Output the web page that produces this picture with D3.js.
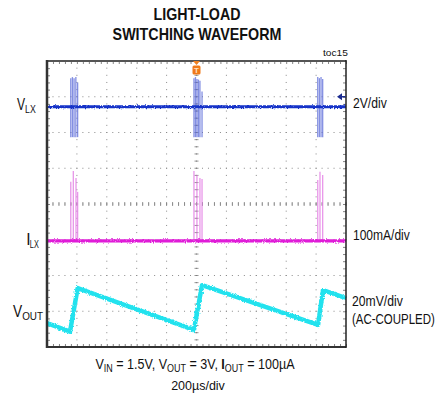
<!DOCTYPE html>
<html>
<head>
<meta charset="utf-8">
<script src="https://cdn.jsdelivr.net/npm/d3@7"></script>
<style>
body { margin: 0; background: #fff; }
text { font-family: 'Liberation Sans', Arial, sans-serif; fill: #111; }
</style>
</head>
<body>
<script>
// time axis: 10 div x 200us, vertical: 8 div (values below are in screen divisions)
const timeRange = [0, 2000]
const divRange = [-4, 4]

// VLX trace (blue)
const vlxLevel = 2.72
const vlxGround = 3.0
const vlxBurstTimes = [
	[159, 170, 181, 193, 205],
	[983, 993, 1003, 1013, 1023, 1037],
	[1811, 1822, 1833, 1844]
]
const vlxBurstHigh = [3.52, 3.55, 3.52, 3.55, 3.40, 3.52, 3.55, 3.50, 3.48, 3.45, 3.15, 3.55, 3.52, 3.55, 3.50]
const vlxBurstLow = 1.87

// ILX trace (magenta)
const ilxLevel = -1.03
const ilxBurstTimes = [
	[159, 176, 194, 205],
	[983, 1003, 1023, 1037],
	[1811, 1826, 1844]
]
const ilxBurstPeaks = [0.62, 0.92, 0.73, 0.34, 0.92, 0.81, 0.73, 0.70, 0.67, 0.90, 0.81]

// VOUT trace (cyan, AC-coupled sawtooth)
const voutTimes = [0, 154, 205, 983, 1037, 1813, 1846, 2000]
const voutDivs = [-3.33, -3.57, -2.35, -3.52, -2.27, -3.38, -2.41, -2.63]

const title = ['LIGHT-LOAD', 'SWITCHING WAVEFORM']

const W = 440, H = 405
const frame = {left: 47, top: 61, right: 346, bottom: 347}

const svg = d3.select('body').append('svg')
	.attr('width', W)
	.attr('height', H)

const defs = svg.append('defs')
const noise = defs.append('filter').attr('id', 'noise')
	.attr('filterUnits', 'userSpaceOnUse')
	.attr('x', 0).attr('y', 0).attr('width', W).attr('height', H)
noise.append('feTurbulence')
	.attr('type', 'fractalNoise').attr('baseFrequency', '0.9 0.6').attr('numOctaves', 2).attr('seed', 3)
	.attr('result', 'turb')
noise.append('feDisplacementMap')
	.attr('in', 'SourceGraphic').attr('in2', 'turb').attr('scale', 3)
	.attr('xChannelSelector', 'R').attr('yChannelSelector', 'G')

const x = d3.scaleLinear().domain(timeRange).range([frame.left, frame.right])
const y = d3.scaleLinear().domain(divRange).range([frame.bottom, frame.top])

const divTimes = d3.range(timeRange[0], timeRange[1] + 1, 200)
const subTimes = d3.range(timeRange[0], timeRange[1] + 1, 40)
const divYs = d3.range(divRange[0], divRange[1] + 0.01, 1)
const subYs = d3.range(divRange[0], divRange[1] + 0.01, 0.2)

// squeeze a text horizontally to the narrow width of the original lettering
const fit = (t, width, ax) => {
	const w = t.node().getBBox().width
	const k = width / w
	t.attr('transform', `translate(${ax},0) scale(${k},1) translate(${-ax},0)`)
	return t
}

// dotted grid
const grid = svg.append('g').attr('class', 'grid').attr('fill', '#8a8a8a')
divTimes.slice(1, -1).forEach(t => {
	grid.selectAll(null).data(subYs).enter().append('rect')
		.attr('x', x(t) - 0.5).attr('y', d => y(d) - 0.5)
		.attr('width', 1).attr('height', 1)
})
divYs.slice(1, -1).forEach(v => {
	grid.selectAll(null).data(subTimes).enter().append('rect')
		.attr('x', d => x(d) - 0.5).attr('y', y(v) - 0.5)
		.attr('width', 1).attr('height', 1)
})

// center cross ticks
const center = svg.append('g').attr('stroke', '#7a7a7a').attr('stroke-width', 0.8)
center.selectAll(null).data(subTimes).enter().append('line')
	.attr('x1', d => x(d)).attr('x2', d => x(d))
	.attr('y1', y(0) - 2).attr('y2', y(0) + 2)
center.selectAll(null).data(subYs).enter().append('line')
	.attr('y1', d => y(d)).attr('y2', d => y(d))
	.attr('x1', x(1000) - 2).attr('x2', x(1000) + 2)

// border ticks via axes
const tickAxis = (axis, scale, vals, size) => axis(scale).tickValues(vals).tickSize(size).tickFormat('')
svg.append('g').attr('transform', `translate(0,${frame.top})`)
	.call(tickAxis(d3.axisBottom, x, subTimes, 3))
svg.append('g').attr('transform', `translate(0,${frame.bottom})`)
	.call(tickAxis(d3.axisTop, x, subTimes, 3))
svg.append('g').attr('transform', `translate(${frame.left},0)`)
	.call(tickAxis(d3.axisRight, y, subYs, 3))
svg.append('g').attr('transform', `translate(${frame.right},0)`)
	.call(tickAxis(d3.axisLeft, y, subYs, 3))
svg.selectAll('.domain').remove()
svg.selectAll('.tick line').attr('stroke', '#666').attr('stroke-width', 0.8)

// traces
const traces = svg.append('g')

// VLX bursts
const vlxLines = []
vlxBurstTimes.forEach(b => b.forEach(t => vlxLines.push(t)))
traces.append('g').selectAll('line').data(vlxLines).enter().append('line')
	.attr('x1', d => x(d)).attr('x2', d => x(d))
	.attr('y1', (d, i) => y(vlxBurstHigh[i])).attr('y2', y(vlxBurstLow))
	.attr('stroke', '#5a6ad8').attr('stroke-opacity', 0.75).attr('stroke-width', 1.3)

traces.append('path')
	.datum(timeRange)
	.attr('d', d3.line().x(d => x(d)).y(() => y(vlxLevel)))
	.attr('stroke', '#1530c8').attr('stroke-width', 3.2).attr('fill', 'none')
	.attr('filter', 'url(#noise)')

// ILX bursts
const ilxLines = []
ilxBurstTimes.forEach(b => b.forEach(t => ilxLines.push(t)))
traces.append('g').selectAll('line').data(ilxLines).enter().append('line')
	.attr('x1', d => x(d)).attr('x2', d => x(d))
	.attr('y1', (d, i) => y(ilxBurstPeaks[i])).attr('y2', y(ilxLevel))
	.attr('stroke', '#e27ce4').attr('stroke-opacity', 0.8).attr('stroke-width', 1.3)

traces.append('path')
	.datum(timeRange)
	.attr('d', d3.line().x(d => x(d)).y(() => y(ilxLevel)))
	.attr('stroke', '#e01ad8').attr('stroke-width', 3.2).attr('fill', 'none')
	.attr('filter', 'url(#noise)')

// VOUT
traces.append('path')
	.datum(voutTimes.map((t, i) => [t, voutDivs[i]]))
	.attr('d', d3.line().x(d => x(d[0])).y(d => y(d[1])))
	.attr('stroke', '#22e2ee').attr('stroke-width', 4.5).attr('fill', 'none')
	.attr('stroke-linejoin', 'round')
	.attr('filter', 'url(#noise)')

// frame
svg.append('line').attr('x1', frame.left).attr('x2', frame.right).attr('y1', frame.top).attr('y2', frame.top)
	.attr('stroke', '#555').attr('stroke-width', 2)
svg.append('line').attr('x1', frame.left).attr('x2', frame.right).attr('y1', frame.bottom).attr('y2', frame.bottom)
	.attr('stroke', '#333').attr('stroke-width', 2)
svg.append('line').attr('x1', frame.left).attr('x2', frame.left).attr('y1', frame.top - 1).attr('y2', frame.bottom + 1)
	.attr('stroke', '#333').attr('stroke-width', 2.5)
svg.append('line').attr('x1', frame.right).attr('x2', frame.right).attr('y1', frame.top - 1).attr('y2', frame.bottom + 1)
	.attr('stroke', '#222').attr('stroke-width', 1.5)

// trigger marker
const tx = x(1000)
svg.append('path')
	.attr('d', `M${tx - 3.5},${frame.top} L${tx + 3.5},${frame.top} L${tx},${frame.top + 4} Z`)
	.attr('fill', '#f08020')
svg.append('rect')
	.attr('x', tx - 4).attr('y', frame.top + 4.5).attr('width', 8).attr('height', 9).attr('rx', 1.5)
	.attr('fill', '#f07a1a')
svg.append('text')
	.attr('x', tx).attr('y', frame.top + 12)
	.attr('text-anchor', 'middle').attr('font-size', 8).attr('font-weight', 'bold')
	.style('fill', '#ffe0c0')
	.text('T')

// channel ground arrow
const gy = y(vlxGround)
svg.append('path')
	.attr('d', `M${frame.right - 9},${gy} L${frame.right - 4},${gy - 3.5} L${frame.right - 4},${gy + 3.5} Z M${frame.right - 4},${gy - 0.8} h3.5 v1.6 h-3.5 Z`)
	.attr('fill', '#1a2a90')

// title
const titleWidths = [87, 169]
svg.selectAll('.title').data(title).enter().append('text')
	.attr('class', 'title')
	.attr('x', 197).attr('y', (d, i) => 20 + i * 20)
	.attr('text-anchor', 'middle')
	.attr('font-size', 16).attr('font-weight', 'bold')
	.text(d => d)
	.each(function(d, i) { fit(d3.select(this), titleWidths[i], 197) })

fit(svg.append('text').attr('x', 323).attr('y', 56)
	.attr('font-size', 9.5).text('toc15'), 25, 323)

// channel labels
const sub = (main, s, opts) => {
	const size = opts.size || 16
	const t = svg.append('text').attr('x', opts.x).attr('y', opts.y).attr('font-size', size)
	t.append('tspan').attr('font-weight', opts.bold ? 'bold' : null).text(main)
	t.append('tspan').attr('font-size', size * 0.72).attr('dy', 3).text(s)
	return fit(t, opts.w, opts.x)
}
sub('V', 'LX', {x: 17, y: 110, w: 19})
sub('I', 'LX', {x: 27, y: 245, bold: true, w: 12})
sub('V', 'OUT', {x: 13, y: 317, w: 30})

const right = [
	{t: '2V/div', x: 353, y: 108, w: 34},
	{t: '100mA/div', x: 353, y: 240, w: 57},
	{t: '20mV/div', x: 352, y: 306, w: 51},
	{t: '(AC-COUPLED)', x: 352, y: 324, w: 83}
]
right.forEach(r => {
	fit(svg.append('text').attr('x', r.x).attr('y', r.y).attr('font-size', 15.5).text(r.t), r.w, r.x)
})

// conditions
const cond = svg.append('text').attr('x', 195).attr('y', 369).attr('text-anchor', 'middle').attr('font-size', 14)
cond.append('tspan').text('V')
cond.append('tspan').attr('font-size', 10).attr('dy', 3).text('IN')
cond.append('tspan').attr('dy', -3).text(' = 1.5V, V')
cond.append('tspan').attr('font-size', 10).attr('dy', 3).text('OUT')
cond.append('tspan').attr('dy', -3).text(' = 3V, ')
cond.append('tspan').attr('font-weight', 'bold').text('I')
cond.append('tspan').attr('font-size', 10).attr('dy', 3).text('OUT')
cond.append('tspan').attr('dy', -3).text(' = 100µA')
fit(cond, 200, 195)

fit(svg.append('text').attr('x', 198).attr('y', 390).attr('text-anchor', 'middle').attr('font-size', 13.5)
	.text('200µs/div'), 54, 198)
</script>
</body>
</html>
